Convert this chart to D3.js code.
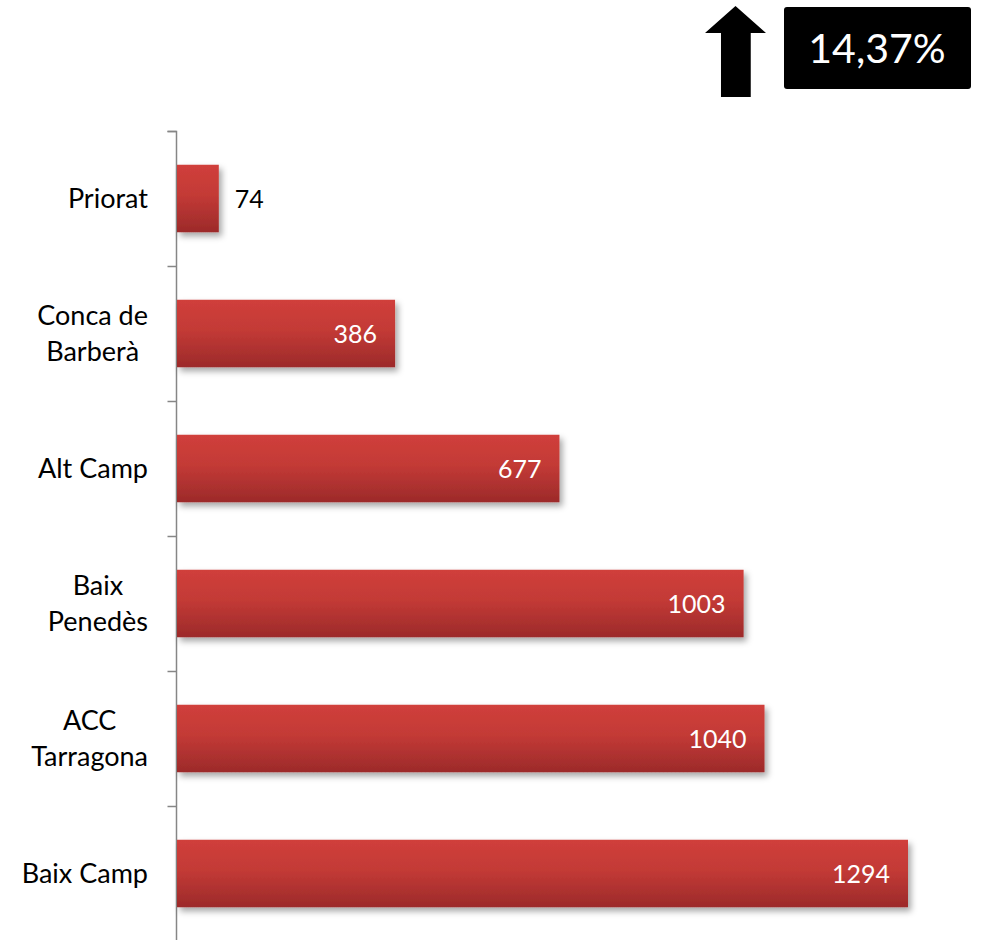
<!DOCTYPE html>
<html><head><meta charset="utf-8">
<script src="https://cdn.jsdelivr.net/npm/d3@7"></script>
<style>body{margin:0;background:#fff}svg{display:block}text{font-family:Lato,"Open Sans",sans-serif}</style>
</head><body>
<svg id="c" width="982" height="940"></svg>
<script>
const categories = [["Priorat"],["Conca de","Barberà"],["Alt Camp"],["Baix","Penedès"],["ACC","Tarragona"],["Baix Camp"]];
const values = [74,386,677,1003,1040,1294];
const changeLabel = "14,37%";

const svg = d3.select("#c");
const defs = svg.append("defs");
const g = defs.append("linearGradient").attr("id","bg").attr("x1",0).attr("y1",0).attr("x2",0).attr("y2",1);
g.append("stop").attr("offset","0%").attr("stop-color","#d03f3b");
g.append("stop").attr("offset","45%").attr("stop-color","#c33a36");
g.append("stop").attr("offset","100%").attr("stop-color","#9c2a2a");
const f = defs.append("filter").attr("id","sh").attr("x","-10%").attr("y","-20%").attr("width","130%").attr("height","160%");
f.append("feDropShadow").attr("dx",3).attr("dy",4).attr("stdDeviation",3).attr("flood-color","#000").attr("flood-opacity",0.35);

const idx = d3.range(values.length);
const y = d3.scaleBand().domain(idx).range([131,941]).paddingInner(0.5).paddingOuter(0.25);
const x = d3.scaleLinear().domain([0,1294]).range([177,908]);

// axis
const axis = d3.axisLeft(d3.scaleLinear().domain([0,values.length]).range([131,941]))
  .tickValues(d3.range(values.length+1)).tickSize(9).tickFormat("");
const ag = svg.append("g").attr("transform","translate(176.5,0)").call(axis);
ag.selectAll("path,line").attr("stroke","#868686").attr("stroke-width",1.5);
ag.select(".domain").attr("d","M-9,131.5H0V941");

// bars
svg.append("g").selectAll("rect").data(idx).join("rect")
  .attr("x",x(0)).attr("y",i=>y(i)).attr("width",i=>x(values[i])-x(0)).attr("height",y.bandwidth())
  .attr("fill","url(#bg)").attr("filter","url(#sh)");

// value labels
svg.append("g").selectAll("text").data(idx).join("text")
  .attr("x",i=> values[i] < 200 ? x(values[i])+16 : x(values[i])-18)
  .attr("y",i=>y(i)+y.bandwidth()/2).attr("dy","0.36em")
  .attr("text-anchor",i=> values[i] < 200 ? "start":"end")
  .attr("fill",i=> values[i] < 200 ? "#000":"#fff")
  .attr("font-size",25).text(i=>values[i]);

// category labels
const cl = svg.append("g").selectAll("text").data(idx).join("text")
  .attr("font-size",27).attr("fill","#000").attr("text-anchor","middle");
cl.each(function(i){
  const t = d3.select(this);
  const lines = categories[i];
  const lh = 36;
  const cy = y(i)+y.bandwidth()/2;
  let w = 0;
  lines.forEach((l,k)=>{
    const ts = t.append("tspan").attr("x",0).attr("y",cy + (k-(lines.length-1)/2)*lh).attr("dy","0.36em").text(l);
    w = Math.max(w, ts.node().getComputedTextLength());
  });
  t.selectAll("tspan").attr("x",148 - w/2);
});

// arrow
const ax = d3.scaleLinear().domain([0,1]).range([705,766]);
const ay = d3.scaleLinear().domain([0,1]).range([6,97]);
svg.append("path").attr("fill","#000")
  .attr("d", d3.line()([[ax(0.5),ay(0)],[ax(1),ay(0.297)],[ax(0.75),ay(0.297)],[ax(0.75),ay(1)],[ax(0.262),ay(1)],[ax(0.262),ay(0.297)],[ax(0),ay(0.297)]]) + "Z");

// box
svg.append("rect").attr("x",784).attr("y",7).attr("width",187).attr("height",82).attr("rx",3).attr("fill","#000");
svg.append("text").attr("x",877).attr("y",48).attr("dy","0.36em").attr("text-anchor","middle")
  .attr("fill","#fff").attr("font-size",41).text(changeLabel);
</script>
</body></html>
